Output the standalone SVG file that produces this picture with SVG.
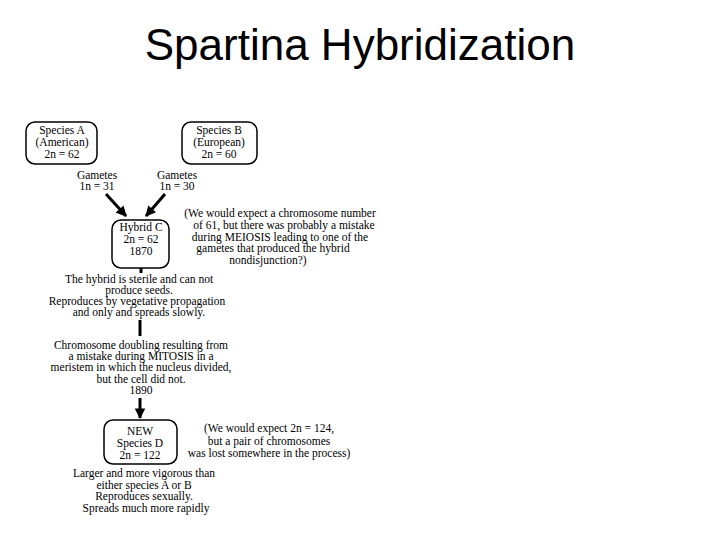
<svg xmlns="http://www.w3.org/2000/svg" width="720" height="540" viewBox="0 0 720 540">
<style>
.t{font-family:"Liberation Serif","Times New Roman",serif;font-size:11.5px;fill:#000;text-anchor:middle}
.title{font-family:"Liberation Sans",Arial,sans-serif;font-size:44px;fill:#000;text-anchor:middle}
.box{fill:none;stroke:#000;stroke-width:1.5}
.ln{fill:none;stroke:#000;stroke-width:3}
</style>
<defs>
<marker id="ah" viewBox="0 0 10 10" refX="9" refY="5" markerWidth="4" markerHeight="3.5" orient="auto" markerUnits="strokeWidth">
<path d="M0,0 L10,5 L0,10 z" fill="#000"/>
</marker>
</defs>
<rect width="720" height="540" fill="#fff"/>
<text class="title" x="360" y="60">Spartina Hybridization</text>

<g id="speciesA">
<rect class="box" x="26" y="122" width="71" height="42" rx="9"/>
<text class="t" x="62" y="134">Species A</text>
<text class="t" x="62" y="146">(American)</text>
<text class="t" x="62" y="158">2n = 62</text>
</g>
<g id="speciesB">
<rect class="box" x="182" y="122" width="75" height="42" rx="9"/>
<text class="t" x="219" y="134">Species B</text>
<text class="t" x="219" y="146">(European)</text>
<text class="t" x="219" y="158">2n = 60</text>
</g>
<g id="gametesA">
<text class="t" x="97" y="179">Gametes</text>
<text class="t" x="97" y="190">1n = 31</text>
</g>
<g id="gametesB">
<text class="t" x="177" y="179">Gametes</text>
<text class="t" x="177" y="190">1n = 30</text>
</g>
<g id="hybridC">
<rect class="box" x="112" y="220" width="57" height="48" rx="9"/>
<text class="t" x="141" y="231">Hybrid C</text>
<text class="t" x="141" y="243">2n = 62</text>
<text class="t" x="141" y="255">1870</text>
</g>
<g id="note1">
<text class="t" x="280" y="217">(We would expect a chromosome number</text>
<text class="t" x="284" y="229">of 61, but there was probably a mistake</text>
<text class="t" x="280" y="241">during MEIOSIS leading to one of the</text>
<text class="t" x="273" y="252">gametes that produced the hybrid</text>
<text class="t" x="268" y="264">nondisjunction?)</text>
</g>
<g id="sterile">
<text class="t" x="139" y="283">The hybrid is sterile and can not</text>
<text class="t" x="139" y="294">produce seeds.</text>
<text class="t" x="137" y="305">Reproduces by vegetative propagation</text>
<text class="t" x="139" y="316">and only and spreads slowly.</text>
</g>
<g id="doubling">
<text class="t" x="141" y="349">Chromosome doubling resulting from</text>
<text class="t" x="141" y="360">a mistake during MITOSIS in a</text>
<text class="t" x="141" y="371">meristem in which the nucleus divided,</text>
<text class="t" x="141" y="383">but the cell did not.</text>
<text class="t" x="141" y="394">1890</text>
</g>
<g id="speciesD">
<rect class="box" x="104" y="420" width="73" height="44" rx="9"/>
<text class="t" x="140" y="435">NEW</text>
<text class="t" x="140" y="447">Species D</text>
<text class="t" x="140" y="459">2n = 122</text>
</g>
<g id="note2">
<text class="t" x="269" y="432">(We would expect 2n = 124,</text>
<text class="t" x="269" y="445">but a pair of chromosomes</text>
<text class="t" x="269" y="457">was lost somewhere in the process)</text>
</g>
<g id="result">
<text class="t" x="144" y="477">Larger and more vigorous than</text>
<text class="t" x="144" y="489">either species A or B</text>
<text class="t" x="144" y="500">Reproduces sexually.</text>
<text class="t" x="146" y="512">Spreads much more rapidly</text>
</g>
<g id="connectors">
<line class="ln" x1="106" y1="194" x2="126" y2="216" marker-end="url(#ah)"/>
<line class="ln" x1="165" y1="194" x2="146" y2="216" marker-end="url(#ah)"/>
<line class="ln" x1="141" y1="268" x2="141" y2="273"/>
<line class="ln" x1="140" y1="320" x2="140" y2="336"/>
<line class="ln" x1="140" y1="398" x2="140" y2="418" marker-end="url(#ah)"/>
</g>
</svg>
